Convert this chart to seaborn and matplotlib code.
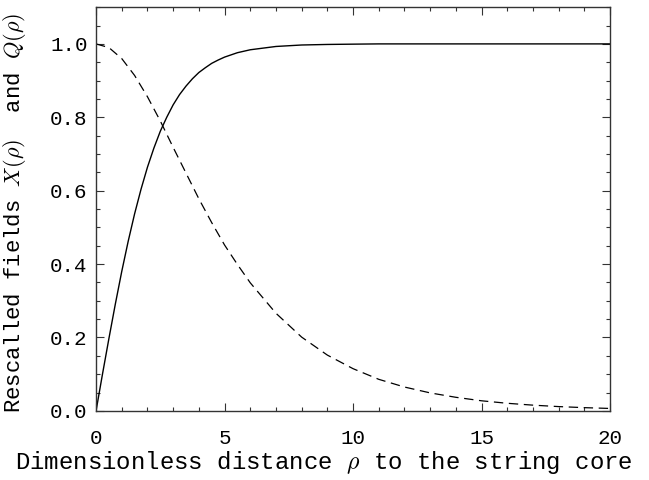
import numpy as np
import pandas as pd
import matplotlib
matplotlib.use("Agg")
import matplotlib.pyplot as plt
import seaborn as sns
from matplotlib.ticker import MultipleLocator, FuncFormatter

# Data
rho_x = [0, 0.25, 0.5, 0.75, 1, 1.25, 1.5, 1.75, 2, 2.25, 2.5, 2.75, 3, 3.25, 3.5,
         3.75, 4, 4.25, 4.5, 4.75, 5, 5.5, 6, 7, 8, 9, 10, 11, 12, 13, 14, 15, 16,
         17, 18, 19, 20]
X_vals = [0, 0.100, 0.197, 0.291, 0.380, 0.462, 0.537, 0.604, 0.664, 0.716, 0.762,
          0.800, 0.834, 0.862, 0.885, 0.905, 0.922, 0.935, 0.947, 0.956, 0.964,
          0.976, 0.984, 0.993, 0.997, 0.9985, 0.9993, 1.0, 1.0, 1.0, 1.0, 1.0, 1.0,
          1.0, 1.0, 1.0, 1.0]
rho_q = [0, 0.5, 1, 1.5, 2, 2.5, 3, 3.5, 4, 4.5, 5, 5.5, 6, 7, 8, 9, 10, 11, 12,
         13, 14, 15, 16, 17, 18, 19, 20]
Q_vals = [1.0, 0.990, 0.960, 0.914, 0.856, 0.790, 0.718, 0.648, 0.578, 0.513, 0.452,
          0.399, 0.349, 0.266, 0.201, 0.152, 0.115, 0.086, 0.065, 0.049, 0.037,
          0.0275, 0.0207, 0.0156, 0.0117, 0.0088, 0.0066]

x_label = r"Dimensionless distance $\rho$ to the string core"
y_label = r"Rescalled fields $X(\rho)$  and $Q(\rho)$"

sns.set_theme(style="ticks")
plt.rcParams["font.family"] = ["Liberation Mono", "DejaVu Serif"]
plt.rcParams["mathtext.fontset"] = "cm"

fig = plt.figure(figsize=(6.49, 4.8), dpi=100)
ax = fig.add_axes([0.148, 0.144, 0.792, 0.841])

dfx = pd.DataFrame({"rho": rho_x, "val": X_vals})
dfq = pd.DataFrame({"rho": rho_q, "val": Q_vals})
sns.lineplot(data=dfx, x="rho", y="val", ax=ax, color="black", linewidth=1.0)
sns.lineplot(data=dfq, x="rho", y="val", ax=ax, color="black", linewidth=0.9)
ax.lines[-1].set_dashes([7.5, 4.5])

ax.set_xlim(0, 20)
ax.set_ylim(0, 1.1)
ax.xaxis.set_major_locator(MultipleLocator(5))
ax.xaxis.set_minor_locator(MultipleLocator(1))
ax.yaxis.set_major_locator(MultipleLocator(0.2))
ax.yaxis.set_minor_locator(MultipleLocator(0.05))
ax.xaxis.set_major_formatter(FuncFormatter(lambda v, p: f"{v:.0f}"))
ax.yaxis.set_major_formatter(FuncFormatter(lambda v, p: f"{v:.1f}"))

ax.tick_params(which="both", direction="in", top=True, right=True, color="#333333",
               width=0.8)
ax.tick_params(which="major", length=6, labelsize=15, labelcolor="black")
ax.tick_params(axis="x", which="major", pad=13)
ax.tick_params(axis="y", which="major", pad=6)
ax.tick_params(which="minor", length=3.2)
for s in ax.spines.values():
    s.set_visible(True)
    s.set_color("#333333")
    s.set_linewidth(1.0)

ax.set_xlabel(x_label, fontsize=17.3, color="black")
ax.xaxis.set_label_coords(0.4436, -0.094)
ax.set_ylabel(y_label, fontsize=16, color="black")
ax.yaxis.set_label_coords(-0.132, 0.49)

fig.savefig("out.png", dpi=100, facecolor="white")
